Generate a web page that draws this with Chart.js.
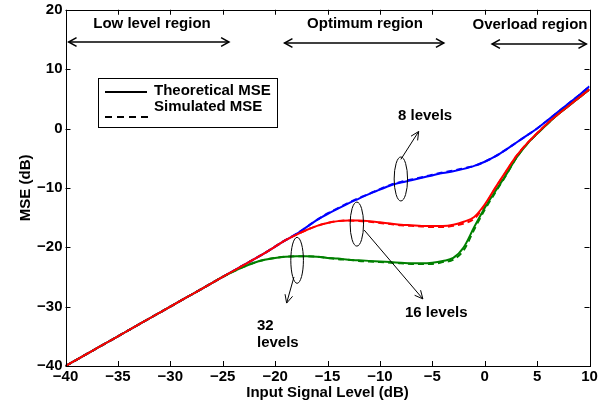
<!DOCTYPE html>
<html><head><meta charset="utf-8">
<script src="https://cdn.jsdelivr.net/npm/chart.js@4/dist/chart.umd.min.js"></script>
<style>html,body{margin:0;padding:0;background:#fff}#wrap{width:613px;height:411px;position:relative}</style>
</head><body><div id="wrap"><canvas id="c"></canvas></div>
<script>
// Input signal level (dB)
const inputLevels = [-40,-39,-38,-37,-36,-35,-34,-33,-32,-31,-30,-29,-28,-27,-26,-25,-24,-23,-22,-21,
  -20,-19,-18,-17,-16,-15,-14,-13,-12,-11,-10,-9,-8,-7,-6,-5,-4,-3,-2,-1,0,1,2,3,4,5,6,7,8,9,10];
// Theoretical MSE (dB)
const theo8 = [-40,-39,-38,-37,-36,-35,-34,-33,-32,-31,-30,-29,-28,-27,-26,-25,-24,-23,-22,-21,
  -19.9,-18.8,-17.8,-16.6,-15.4,-14.4,-13.5,-12.6,-11.8,-11.0,-10.3,-9.6,-9.1,-8.7,-8.3,-7.9,-7.5,-7.2,-6.8,-6.3,
  -5.6,-4.7,-3.6,-2.4,-1.2,0.0,1.4,2.8,4.2,5.6,7.1];
const theo16 = [-40,-39,-38,-37,-36,-35,-34,-33,-32,-31,-30,-29,-28,-27,-26,-25,-24,-23,-22,-21,
  -19.9,-18.8,-17.9,-17.1,-16.4,-15.9,-15.6,-15.5,-15.5,-15.6,-15.8,-16.0,-16.2,-16.3,-16.4,-16.4,-16.4,-16.2,-15.7,-14.9,
  -12.8,-10.0,-7.3,-4.7,-2.6,-0.8,0.9,2.4,3.8,5.2,6.6];
const theo32 = [-40,-39,-38,-37,-36,-35,-34,-33,-32,-31,-30,-29,-28,-27,-26,-25.0,-24.1,-23.3,-22.6,-22.1,
  -21.8,-21.6,-21.5,-21.5,-21.6,-21.8,-21.9,-22.1,-22.2,-22.3,-22.4,-22.5,-22.6,-22.7,-22.7,-22.6,-22.3,-21.8,-20.0,-16.6,
  -13.4,-10.6,-7.9,-5.0,-2.7,-0.9,0.8,2.4,3.8,5.2,6.6];
// Simulated MSE (dB)
const sim8 = [-40,-39,-38,-37,-36,-35,-34,-33,-32,-31,-30,-29,-28,-27,-26,-25,-24,-23,-22,-21,
  -19.9,-18.8,-17.8,-16.6,-15.4,-14.3,-13.4,-12.5,-11.7,-11.0,-10.2,-9.5,-9.0,-8.6,-8.2,-7.8,-7.4,-7.1,-6.7,-6.3,
  -5.6,-4.7,-3.6,-2.4,-1.2,0.0,1.4,2.8,4.2,5.6,7.1];
const sim16 = [-40,-39,-38,-37,-36,-35,-34,-33,-32,-31,-30,-29,-28,-27,-26,-25,-24,-23,-22,-21,
  -19.9,-18.8,-17.9,-17.1,-16.4,-15.9,-15.6,-15.5,-15.6,-15.7,-15.9,-16.1,-16.3,-16.4,-16.5,-16.6,-16.6,-16.4,-16.0,-15.2,
  -13.0,-10.1,-7.4,-4.7,-2.6,-0.8,0.9,2.4,3.8,5.2,6.6];
const sim32 = [-40,-39,-38,-37,-36,-35,-34,-33,-32,-31,-30,-29,-28,-27,-26,-25.0,-24.1,-23.3,-22.6,-22.1,
  -21.8,-21.6,-21.5,-21.5,-21.6,-21.8,-22.0,-22.1,-22.3,-22.4,-22.5,-22.6,-22.7,-22.8,-22.8,-22.8,-22.5,-22.1,-20.5,-17.0,
  -13.7,-10.8,-8.0,-5.0,-2.7,-0.9,0.8,2.4,3.8,5.2,6.6];
const xTicks = [-40,-35,-30,-25,-20,-15,-10,-5,0,5,10];
const yTicks = [-40,-30,-20,-10,0,10,20];

const FONT = "'Liberation Sans', Arial, sans-serif";
const pts = arr => inputLevels.map((x, i) => ({x, y: arr[i]}));
const fmt = v => (v < 0 ? '\u2212' + Math.abs(v) : String(v));

function ds(arr, color, dashed) {
  return { data: pts(arr), borderColor: color, backgroundColor: color, borderWidth: 2,
    borderDash: dashed ? [6, 4] : [], pointRadius: 0, cubicInterpolationMode: 'monotone', fill: false };
}

const decor = {
  id: 'decor',
  afterDatasetsDraw(chart) {
    const c = chart.ctx, a = chart.chartArea;
    const xs = chart.scales.x, ys = chart.scales.y;
    c.save();
    // frame
    c.strokeStyle = '#000'; c.lineWidth = 1; c.setLineDash([]);
    c.strokeRect(Math.round(a.left) + 0.5, Math.round(a.top) + 0.5, Math.round(a.right - a.left), Math.round(a.bottom - a.top));
    // inward ticks
    c.beginPath();
    xTicks.forEach(v => { const p = Math.round(xs.getPixelForValue(v)) + 0.5;
      c.moveTo(p, a.bottom); c.lineTo(p, a.bottom - 5); c.moveTo(p, a.top); c.lineTo(p, a.top + 5); });
    yTicks.forEach(v => { const p = Math.round(ys.getPixelForValue(v)) + 0.5;
      c.moveTo(a.left, p); c.lineTo(a.left + 5, p); c.moveTo(a.right, p); c.lineTo(a.right - 5, p); });
    c.stroke();

    const X = v => xs.getPixelForValue(v), Y = v => ys.getPixelForValue(v);
    c.fillStyle = '#000';
    c.font = 'bold 15px ' + FONT;
    c.textBaseline = 'middle';

    // region labels and double arrows
    function head(x1, y1, x2, y2, len, ang) {
      const t = Math.atan2(y2 - y1, x2 - x1);
      c.beginPath();
      c.moveTo(x2 - len * Math.cos(t - ang), y2 - len * Math.sin(t - ang));
      c.lineTo(x2, y2);
      c.lineTo(x2 - len * Math.cos(t + ang), y2 - len * Math.sin(t + ang));
      c.stroke();
    }
    function dbl(x1, x2, y) {
      c.lineWidth = 1.5;
      c.beginPath(); c.moveTo(x1, y); c.lineTo(x2, y); c.stroke();
      head(x2, y, x1, y, 9, 0.5); head(x1, y, x2, y, 9, 0.5);
    }
    c.textAlign = 'center';
    c.fillText('Low level region', 152, 24); dbl(X(-39.7), X(-24.4), 42);
    c.fillText('Optimum region', 365, 24); dbl(X(-19.1), X(-3.9), 43);
    c.fillText('Overload region', 530, 25); dbl(X(0.7), X(9.7), 44);

    // ellipses and pointer arrows
    c.lineWidth = 1;
    function ell(cx, cy, rx, ry) { c.beginPath(); c.ellipse(cx, cy, rx, ry, 0, 0, Math.PI * 2); c.stroke(); }
    function arrow(x1, y1, x2, y2) { c.beginPath(); c.moveTo(x1, y1); c.lineTo(x2, y2); c.stroke(); head(x1, y1, x2, y2, 9, 0.45); }
    ell(X(-8.0), Y(-8.5), 6.7, 22); arrow(X(-8.0), Y(-5.2), X(-6.3), Y(-0.5));
    ell(X(-12.2), Y(-16.1), 6.7, 22); arrow(X(-11.5), Y(-17.1), X(-5.9), Y(-28.7));
    ell(X(-17.9), Y(-22.2), 6.3, 23); arrow(X(-18.2), Y(-25.0), X(-18.9), Y(-29.4));
    c.textAlign = 'left';
    c.fillText('8 levels', 398, 116);
    c.fillText('16 levels', 405, 313);
    c.fillText('32', 257, 326);
    c.fillText('levels', 257, 343);

    // legend
    c.fillStyle = '#fff'; c.fillRect(98, 78, 179, 49);
    c.strokeStyle = '#000'; c.lineWidth = 1; c.strokeRect(98.5, 78.5, 179, 49);
    c.lineWidth = 2;
    c.beginPath(); c.moveTo(105, 92); c.lineTo(147, 92); c.stroke();
    c.setLineDash([7, 5]);
    c.beginPath(); c.moveTo(105, 117); c.lineTo(149, 117); c.stroke();
    c.setLineDash([]);
    c.fillStyle = '#000';
    c.fillText('Theoretical MSE', 154, 91);
    c.fillText('Simulated MSE', 154, 107);
    c.restore();
  }
};

Chart.defaults.color = '#000';
Chart.defaults.font.family = FONT;

new Chart(document.getElementById('c'), {
  type: 'line',
  data: { datasets: [
    ds(theo16, '#ff0000', false), ds(theo32, '#008000', false), ds(theo8, '#0000ff', false),
    ds(sim16, '#ff0000', true), ds(sim32, '#008000', true), ds(sim8, '#0000ff', true)
  ]},
  options: {
    responsive: true, maintainAspectRatio: false, animation: false,
    layout: { padding: { left: 0, top: 7, right: 23.5, bottom: 0 } },
    plugins: { legend: { display: false }, tooltip: { enabled: false } },
    scales: {
      x: { type: 'linear', min: -40, max: 10,
        afterBuildTicks: s => { s.ticks = xTicks.map(v => ({value: v})); },
        afterFit: s => { s.height = 45; },
        grid: { display: false, drawTicks: false }, border: { display: false },
        ticks: { padding: 4, maxRotation: 0, autoSkip: false, callback: fmt,
          font: { size: 15, weight: 'bold', lineHeight: 0.9 } },
        title: { display: true, text: 'Input Signal Level (dB)', padding: { top: 0, bottom: 9 },
          font: { size: 15, weight: 'bold' } } },
      y: { type: 'linear', min: -40, max: 20,
        afterBuildTicks: s => { s.ticks = yTicks.map(v => ({value: v})); },
        afterFit: s => { s.width = 65.5; },
        grid: { display: false, drawTicks: false }, border: { display: false },
        ticks: { padding: 3, autoSkip: false, callback: fmt,
          font: { size: 15, weight: 'bold', lineHeight: 0.9 } },
        title: { display: true, text: 'MSE (dB)', padding: { top: 17, bottom: 0 },
          font: { size: 15, weight: 'bold' } } }
    }
  },
  plugins: [decor]
});
</script>
</body></html>
